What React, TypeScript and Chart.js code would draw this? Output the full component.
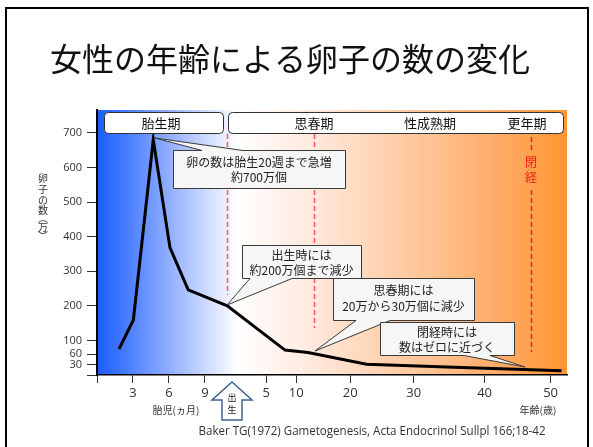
import React, { useEffect, useRef } from 'react';
import { Chart, registerables } from 'chart.js';

Chart.register(...registerables);

// ---- data ----
// x axis is a stylised position axis: fetal months on the left, years of age on the right
const xTickPositions = [0, 3, 6, 9, 14.1, 16.6, 21.1, 26.4, 32.3, 37.8];
const xTickLabels = ['', '3', '6', '9', '5', '10', '20', '30', '40', '50'];
const yTickValues = [0, 30, 60, 100, 200, 300, 400, 500, 600, 700];
const yTickLabels = ['', '30', '60', '100', '200', '300', '400', '500', '600', '700'];
const agePositions = [1.83, 3.03, 4.69, 6.08, 7.6, 10.86, 15.67, 17.58, 22.47, 29.14, 38.72];
const eggCounts = [75, 159, 680, 368, 246, 200, 72, 65, 31, 23, 12];
const phaseLinePositions = [10.86, 18.08, 36.17];
const X_MAX = 39.17;
const Y_MAX = 766;

const titleText = '女性の年齢による卵子の数の変化';
const yTitleChars = ['卵', '子', 'の', '数', '︵', '万', '︶'];
const citation = 'Baker TG(1972) Gametogenesis, Acta Endocrinol Sullpl 166;18-42';

const FONT_JP = '"Noto Sans CJK JP", "Noto Sans", sans-serif';
const FONT_LAT = '"Open Sans", "Noto Sans", sans-serif';

type Callout = {
  lines: string[];
  box: [number, number, number, number];
  edge: 'top' | 'bottom';
  base: [number, number];
  tip: [number, number];
  textY: [number, number];
};

const callouts: Callout[] = [
  { lines: ['卵の数は胎生20週まで急増', '約700万個'], box: [173, 150, 345, 188], edge: 'top', base: [202, 243], tip: [155, 138], textY: [162, 177] },
  { lines: ['出生時には', '約200万個まで減少'], box: [242, 245, 361, 278], edge: 'bottom', base: [250, 292], tip: [227, 305], textY: [255, 270] },
  { lines: ['思春期には', '20万から30万個に減少'], box: [333, 278, 474, 320], edge: 'bottom', base: [356, 390], tip: [315, 351], textY: [290, 306] },
  { lines: ['閉経時には', '数はゼロに近づく'], box: [380, 322, 514, 355], edge: 'bottom', base: [464, 490], tip: [525, 367], textY: [332, 347] },
];

const phaseBars = [
  { box: [104, 112, 223, 133], labels: [{ text: '胎生期', x: 161 }] },
  { box: [228, 112, 563, 133], labels: [{ text: '思春期', x: 314 }, { text: '性成熟期', x: 430 }, { text: '更年期', x: 527 }] },
];

function drawCallout(ctx: CanvasRenderingContext2D, c: Callout) {
  const [l, t, r, b] = c.box.map((v) => Math.round(v) + 0.5);
  ctx.save();
  ctx.beginPath();
  ctx.moveTo(l, t);
  if (c.edge === 'top') {
    ctx.lineTo(c.base[0], t);
    ctx.lineTo(c.tip[0], c.tip[1]);
    ctx.lineTo(c.base[1], t);
  }
  ctx.lineTo(r, t);
  ctx.lineTo(r, b);
  if (c.edge === 'bottom') {
    ctx.lineTo(c.base[1], b);
    ctx.lineTo(c.tip[0], c.tip[1]);
    ctx.lineTo(c.base[0], b);
  }
  ctx.lineTo(l, b);
  ctx.closePath();
  ctx.fillStyle = '#f6f6f6';
  ctx.fill();
  ctx.strokeStyle = '#3a3a3a';
  ctx.lineWidth = 1;
  ctx.stroke();
  ctx.fillStyle = '#222';
  ctx.font = `12px ${FONT_JP}`;
  ctx.textAlign = 'center';
  ctx.textBaseline = 'middle';
  const cx = (c.box[0] + c.box[2]) / 2;
  c.lines.forEach((line, i) => ctx.fillText(line, cx, c.textY[i]));
  ctx.restore();
}

const decorPlugin = {
  id: 'decor',
  beforeDraw(chart: any) {
    const { ctx, chartArea: a } = chart;
    ctx.save();
    ctx.fillStyle = '#fff';
    ctx.fillRect(0, 0, chart.width, chart.height);
    // slide frame
    ctx.strokeStyle = '#000';
    ctx.lineWidth = 2;
    ctx.beginPath();
    ctx.moveTo(6, 460);
    ctx.lineTo(6, 8);
    ctx.lineTo(588, 8);
    ctx.lineTo(588, 460);
    ctx.stroke();
    // title
    ctx.fillStyle = '#111';
    ctx.font = `32px ${FONT_JP}`;
    ctx.textAlign = 'left';
    ctx.textBaseline = 'middle';
    ctx.fillText(titleText, 50, 59);
    // gradient background of plot
    const g = ctx.createLinearGradient(a.left, 0, a.right, 0);
    g.addColorStop(0, '#1a5cff');
    g.addColorStop(0.07, '#4d80ff');
    g.addColorStop(0.17, '#9fb8ff');
    g.addColorStop(0.26, '#e2e9ff');
    g.addColorStop(0.3, '#ffffff');
    g.addColorStop(0.45, '#ffeadf');
    g.addColorStop(0.65, '#ffcca5');
    g.addColorStop(0.85, '#ffac6a');
    g.addColorStop(1, '#ff9530');
    ctx.fillStyle = g;
    ctx.fillRect(a.left, a.top, a.right - a.left, a.bottom - a.top);
    ctx.restore();
  },
  beforeDatasetsDraw(chart: any) {
    const { ctx } = chart;
    const xs = chart.scales.x;
    ctx.save();
    ctx.setLineDash([5, 3]);
    ctx.lineWidth = 1.5;
    const ranges = [[134, 295], [134, 328], [137, 352]];
    phaseLinePositions.forEach((p, i) => {
      const x = Math.round(xs.getPixelForValue(p)) + 0.5;
      ctx.strokeStyle = i === 2 ? 'rgba(240,30,30,0.95)' : 'rgba(255,60,60,0.85)';
      ctx.beginPath();
      if (i === 2) {
        ctx.moveTo(x, ranges[i][0]);
        ctx.lineTo(x, 152);
        ctx.moveTo(x, 190);
        ctx.lineTo(x, ranges[i][1]);
      } else {
        ctx.moveTo(x, ranges[i][0]);
        ctx.lineTo(x, ranges[i][1]);
      }
      ctx.stroke();
    });
    ctx.setLineDash([]);
    // 閉経 label
    const mx = xs.getPixelForValue(phaseLinePositions[2]);
    ctx.fillStyle = '#ff1a1a';
    ctx.font = `12px ${FONT_JP}`;
    ctx.textAlign = 'center';
    ctx.textBaseline = 'middle';
    ctx.fillText('閉', mx, 162);
    ctx.fillText('経', mx, 177);
    ctx.restore();
  },
  afterDatasetsDraw(chart: any) {
    const { ctx } = chart;
    ctx.save();
    // phase bars
    phaseBars.forEach((bar) => {
      const [l, t, r, b] = bar.box;
      ctx.beginPath();
      ctx.roundRect(l + 0.5, t + 0.5, r - l, b - t, 4);
      ctx.fillStyle = '#fff';
      ctx.fill();
      ctx.strokeStyle = '#333';
      ctx.lineWidth = 1;
      ctx.stroke();
      ctx.fillStyle = '#111';
      ctx.font = `13px ${FONT_JP}`;
      ctx.textAlign = 'center';
      ctx.textBaseline = 'middle';
      bar.labels.forEach((lb) => ctx.fillText(lb.text, lb.x, (t + b) / 2 + 1));
    });
    // callouts
    callouts.forEach((c) => drawCallout(ctx, c));
    // birth arrow
    ctx.beginPath();
    ctx.moveTo(232, 382);
    ctx.lineTo(252, 400);
    ctx.lineTo(242, 400);
    ctx.lineTo(242, 420);
    ctx.lineTo(222, 420);
    ctx.lineTo(222, 400);
    ctx.lineTo(212, 400);
    ctx.closePath();
    ctx.fillStyle = '#fff';
    ctx.fill();
    ctx.strokeStyle = '#41628f';
    ctx.lineWidth = 1.5;
    ctx.stroke();
    ctx.fillStyle = '#222';
    ctx.font = `9px ${FONT_JP}`;
    ctx.textAlign = 'center';
    ctx.textBaseline = 'middle';
    ctx.fillText('出', 232, 398);
    ctx.fillText('生', 232, 410);
    // axis titles
    ctx.fillStyle = '#333';
    ctx.font = `10px ${FONT_JP}`;
    ctx.fillText('胎児(ヵ月)', 176, 410);
    ctx.fillText('年齢(歳)', 538, 410);
    const ys = [178, 189, 200, 210, 218, 227, 236];
    yTitleChars.forEach((ch, i) => ctx.fillText(ch, 43, ys[i]));
    // citation
    ctx.fillStyle = '#333';
    ctx.font = `12px ${FONT_LAT}`;
    ctx.fillText(citation, 372, 432, 347);
    ctx.restore();
  },
};

export default function App() {
  const ref = useRef<HTMLCanvasElement | null>(null);
  useEffect(() => {
    if (!ref.current) return;
    const chart = new Chart(ref.current, {
      type: 'line',
      data: {
        datasets: [
          {
            data: agePositions.map((x, i) => ({ x, y: eggCounts[i] })),
            borderColor: '#000',
            borderWidth: 3,
            pointRadius: 0,
            tension: 0,
            fill: false,
          },
        ],
      },
      options: {
        animation: false,
        responsive: false,
        layout: { padding: { left: 57, right: 26, top: 110, bottom: 32 } },
        plugins: {
          legend: { display: false },
          tooltip: { enabled: false },
          title: { display: false },
        },
        scales: {
          x: {
            type: 'linear',
            min: 0,
            max: X_MAX,
            afterBuildTicks: (s: any) => {
              s.ticks = xTickPositions.map((v) => ({ value: v }));
            },
            afterFit: (s: any) => {
              s.height = 40;
            },
            ticks: {
              autoSkip: false,
              maxRotation: 0,
              padding: 2,
              color: '#333',
              font: { family: FONT_LAT, size: 13 },
              callback: (_v: any, i: number) => xTickLabels[i],
            },
            grid: { drawOnChartArea: false, drawTicks: true, tickLength: 8, color: '#333', lineWidth: 1 },
            border: { display: true, color: '#000', width: 1.5 },
          },
          y: {
            type: 'linear',
            min: 0,
            max: Y_MAX,
            afterBuildTicks: (s: any) => {
              s.ticks = yTickValues.map((v) => ({ value: v }));
            },
            afterFit: (s: any) => {
              s.width = 40;
            },
            ticks: {
              autoSkip: false,
              padding: 5,
              color: '#333',
              font: { family: FONT_LAT, size: 11 },
              callback: (_v: any, i: number) => yTickLabels[i],
            },
            grid: { drawOnChartArea: false, drawTicks: true, tickLength: 10, color: '#333', lineWidth: 1 },
            border: { display: true, color: '#000', width: 2 },
          },
        },
      },
      plugins: [decorPlugin],
    } as any);
    return () => chart.destroy();
  }, []);
  return (
    <div style={{ position: 'absolute', left: 0, top: 0, width: 593, height: 447 }}>
      <canvas ref={ref} width={593} height={447} style={{ width: 593, height: 447, display: 'block' }} />
    </div>
  );
}
